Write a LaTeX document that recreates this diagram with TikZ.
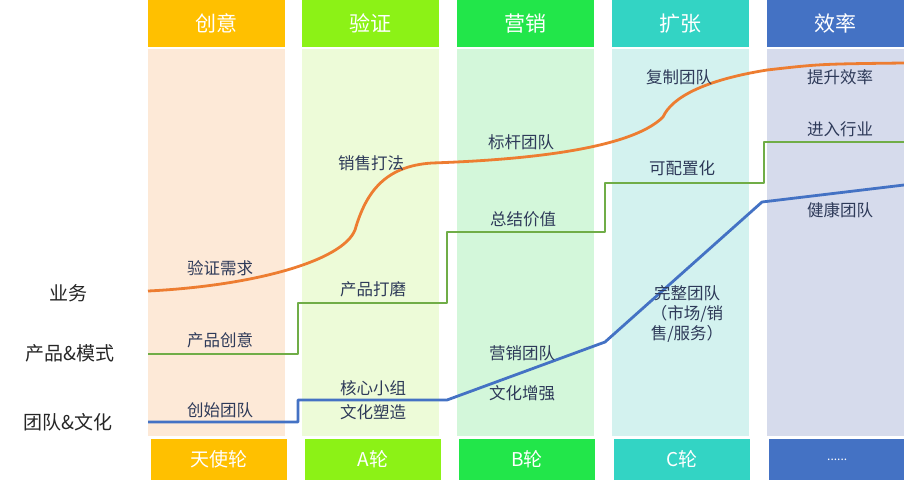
\documentclass[tikz,border=0pt]{standalone}
\usepackage{fontspec}
\setmainfont{Noto Sans CJK SC}
\definecolor{hA}{HTML}{FFC000}
\definecolor{hB}{HTML}{8CF216}
\definecolor{hC}{HTML}{22E64A}
\definecolor{hD}{HTML}{33D4C4}
\definecolor{hE}{HTML}{4472C4}
\definecolor{bA}{HTML}{FDE9D7}
\definecolor{bB}{HTML}{EDFBD8}
\definecolor{bC}{HTML}{D3F7DA}
\definecolor{bD}{HTML}{D3F2EF}
\definecolor{bE}{HTML}{D6DBEC}
\definecolor{lorange}{HTML}{ED7D31}
\definecolor{lgreen}{HTML}{70AD47}
\definecolor{lblue}{HTML}{4472C4}
\definecolor{lbl}{HTML}{2E3A59}
\definecolor{side}{HTML}{262626}
\begin{document}
\begin{tikzpicture}[x=1pt,y=-1pt,
  hdr/.style={anchor=north west,minimum width=137pt,minimum height=47pt,inner sep=0pt,text=white,font=\fontsize{21}{21}\selectfont},
  body/.style={anchor=north west,minimum width=137pt,minimum height=387pt,inner sep=0pt},
  ftr/.style={anchor=north west,minimum width=136pt,minimum height=41pt,inner sep=0pt,text=white,font=\fontsize{19}{19}\selectfont},
  lab/.style={text=lbl,inner sep=0pt,font=\fontsize{16.5}{20}\selectfont},
  sidelab/.style={text=side,inner sep=0pt,font=\fontsize{19}{19}\selectfont},
  curve/.style={line width=2.8pt,line join=round}]
\useasboundingbox (0,0) rectangle (904,480);
% columns
\node[hdr,fill=hA] (h1) at (148,0) {创意};
\node[hdr,fill=hB] (h2) at (302,0) {验证};
\node[hdr,fill=hC] (h3) at (457,0) {营销};
\node[hdr,fill=hD] (h4) at (612,0) {扩张};
\node[hdr,fill=hE] (h5) at (767,0) {效率};
\node[body,fill=bA] (b1) at (148,49) {};
\node[body,fill=bB] (b2) at (302,49) {};
\node[body,fill=bC] (b3) at (457,49) {};
\node[body,fill=bD] (b4) at (612,49) {};
\node[body,fill=bE] (b5) at (767,49) {};
\node[ftr,fill=hA] (f1) at (151,439) {天使轮};
\node[ftr,fill=hB] (f2) at (305,439) {A轮};
\node[ftr,fill=hC] (f3) at (459,439) {B轮};
\node[ftr,fill=hD] (f4) at (614,439) {C轮};
\node[ftr,fill=hE,font=\fontsize{12}{12}\selectfont] (f5) at (769,439) {......};
% side labels
\node[sidelab] (s1) at (68,293) {业务};
\node[sidelab] (s2) at (70,353) {产品\&模式};
\node[sidelab] (s3) at (68,422) {团队\&文化};
% orange curve
\coordinate (o0) at (148,291);
\coordinate (o1) at (355,230);
\coordinate (o2) at (432,163);
\coordinate (o3) at (663,117);
\coordinate (o4) at (767,70);
\coordinate (o5) at (904,63);
\draw[curve,lorange] (o0) .. controls (250,286) and (342,262) .. (o1)
  .. controls (366,192) and (385,166) .. (o2)
  .. controls (520,160) and (630,150) .. (o3)
  .. controls (672,97) and (705,80) .. (o4)
  .. controls (820,64) .. (o5);
% green steps
\coordinate (g0) at (148,354);
\coordinate (g1) at (298,354);
\coordinate (g2) at (298,303);
\coordinate (g3) at (447,303);
\coordinate (g4) at (447,232);
\coordinate (g5) at (605,232);
\coordinate (g6) at (605,183);
\coordinate (g7) at (764,183);
\coordinate (g8) at (764,142);
\coordinate (g9) at (904,142);
\draw[curve,lgreen] (g0) -- (g1) -- (g2) -- (g3) -- (g4) -- (g5) -- (g6) -- (g7) -- (g8) -- (g9);
% blue line
\coordinate (u0) at (148,422);
\coordinate (u1) at (298,422);
\coordinate (u2) at (298,400);
\coordinate (u3) at (447,400);
\coordinate (u4) at (605,342);
\coordinate (u5) at (762,202);
\coordinate (u6) at (904,185);
\draw[curve,lblue] (u0) -- (u1) -- (u2) -- (u3) -- (u4) -- (u5) -- (u6);
% labels
\node[lab] (t1) at (220,268) {验证需求};
\node[lab] (t2) at (220,340) {产品创意};
\node[lab] (t3) at (220,410) {创始团队};
\node[lab] (t4) at (371,163) {销售打法};
\node[lab] (t5) at (373,289) {产品打磨};
\node[lab] (t6) at (373,388) {核心小组};
\node[lab] (t7) at (373,412) {文化塑造};
\node[lab] (t8) at (521,142) {标杆团队};
\node[lab] (t9) at (523,219) {总结价值};
\node[lab] (t10) at (522,353) {营销团队};
\node[lab] (t11) at (522,393) {文化增强};
\node[lab] (t12) at (679,77) {复制团队};
\node[lab] (t13) at (682,168) {可配置化};
\node[lab,align=center] (t14) at (687,314) {完整团队\\（市场/销\\售/服务）};
\node[lab] (t15) at (840,77) {提升效率};
\node[lab] (t16) at (840,129) {进入行业};
\node[lab] (t17) at (840,210) {健康团队};
\end{tikzpicture}
\end{document}
